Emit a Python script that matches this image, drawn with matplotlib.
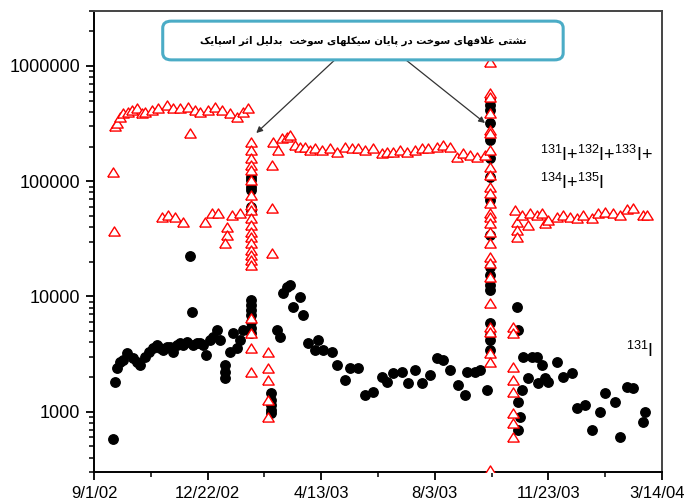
import matplotlib
matplotlib.use("Agg")
import matplotlib.pyplot as plt
from matplotlib.patches import FancyBboxPatch
from matplotlib.ticker import FixedLocator, NullFormatter, LogLocator
from matplotlib.transforms import ScaledTranslation

# ---------------- data (days since 9/1/02, activity) ----------------
i131_day = [18.7, 20.7, 22.7, 25.6, 28.6, 32.5, 38.5, 42.4, 45.4, 50.3, 54.2, 58.2, 62.1, 65.1,
            68, 72, 75, 77.9, 81.8, 84.8, 87.7, 91.7, 94.6, 96.6, 97.6, 101.5, 104.5, 107.5,
            110.4, 114.4, 117.3, 121.3, 124.2, 129.2, 129.2, 129.2, 134.1, 137, 141, 143.9, 146.9,
            155, 155, 155, 155, 155, 155, 155, 155, 155, 155, 155, 155, 155,
            174.5, 174.5, 174.5, 174.5, 174.5,
            180.4, 183.4, 186.3, 190.3, 193.2, 196.2, 203.1, 206.1, 211, 217.9, 220.9, 225.8,
            234.6, 239.6, 247.5, 252.4, 260.3, 267.2, 275.1, 283.9, 288.9, 294.8, 303.7, 309.6,
            316.5, 323.4, 331.3, 338.2, 344.1, 351, 358.8, 365.8, 367.8, 375.6, 380.6, 387.5,
            390.5, 390.5, 390.5, 390.5, 390.5, 390.5, 390.5, 390.5, 390.5, 390.5, 390.5, 390.5,
            390.5, 390.5, 390.5, 390.5, 390.5,
            417, 418, 422, 418, 420, 418, 423, 431.8, 436.8, 441.7, 427.9, 437.7, 444.6, 447.6,
            456.5, 462.4, 471.3, 476.2, 484.1, 491, 498.9, 503.8, 513.7, 518.6, 525.5, 531.4,
            541.3, 543.2]
i131_val = [580, 1810, 2400, 2700, 2810, 3230, 2930, 2700, 2540, 2990, 3300, 3570, 3800, 3570,
            3430, 3650, 3650, 3300, 3800, 3950, 3800, 4030, 22500, 7300, 3800, 3950, 3950, 3800,
            3100, 4190, 4450, 5100, 4190, 2540, 2210, 1960, 3300, 4800, 3570, 4190, 5100,
            109000, 102000, 89000, 84000, 60000, 56000, 9300, 8440, 7630, 6900, 6000, 5330, 4800,
            1450, 1260, 1140, 1035, 975,
            5100, 4450, 10700, 12100, 12600, 8100, 9900, 6900, 3950, 3430, 4190, 3430,
            3300, 2540, 1890, 2400, 2400, 1400, 1480, 2000, 1810, 2170, 2210, 1780,
            2300, 1780, 2080, 2930, 2810, 2300, 1710, 1400, 2210, 2210, 2300, 1540,
            507000, 459000, 415000, 320000, 228000, 159000, 109000, 68700, 34000, 18000, 15400,
            12600, 11400, 5900, 4630, 4190, 3430,
            8100, 5100, 1540, 1210, 900, 694, 2990, 2990, 2990, 2540, 1960, 1780, 1960, 1810,
            2700, 2000, 2170, 1080, 1140, 694, 995, 1450, 1210, 604, 1640, 1610,
            815, 995]

total_day = [20.5, 22.4, 25.6, 28.6, 33.5, 37.2, 42.1, 47, 50.3, 56.9, 63.1, 71.7, 77.9, 84.8,
             92.7, 99.6, 104.5, 112.4, 119.3, 125.9, 134.1, 140.7, 146.9, 151.8,
             94.6, 18.7, 19.7,
             66.7, 73, 79.9, 87.7, 109.4, 116, 122.3, 135.8, 143.9, 130.8, 130.8, 129.2,
             155, 155, 155, 155, 155, 155, 155, 155, 155, 155, 155, 155, 155, 155, 155, 155,
             155, 155, 155, 155, 155, 155,
             175.5, 175.5, 175.5, 171.6, 171.6, 171.6, 171.6, 171.6,
             176.5, 181.4, 185.4, 190.3, 193.2, 198.2, 203.1, 208, 213, 217.9, 224.8, 232.7,
             239.6, 247.5, 254.4, 260.3, 267.2, 275.1, 283.9, 288.9, 294.8, 301.7, 308.6, 316.5,
             323.4, 329.3, 338.2, 344.1, 351, 357.9, 363.8, 370.7, 377.6, 385.5,
             390.5, 390.5, 390.5, 390.5, 390.5, 390.5, 390.5, 390.5, 390.5, 390.5, 390.5, 390.5,
             390.5, 390.5, 390.5, 390.5, 390.5, 390.5, 390.5, 390.5, 390.5, 390.5, 390.5, 390.5,
             390.5, 390.5,
             413, 413, 413, 413, 413, 413, 413, 413,
             415.1, 417, 417, 417, 422, 427.9, 429.9, 436.8, 441.7, 444.6, 447.6, 456.5, 462.4,
             469.3, 476.2, 482.1, 491, 496.9, 503.8, 511.7, 518.6, 525.5, 531.4, 541.3, 545.2]
total_val = [300000, 318000, 363000, 391000, 399000, 415000, 432000, 391000, 399000, 415000,
             432000, 459000, 432000, 432000, 441000, 415000, 399000, 415000, 441000, 415000,
             391000, 361000, 399000, 432000,
             262000, 120000, 37000,
             49000, 51000, 49000, 44000, 44000, 53000, 53000, 51000, 53000, 40000, 34000, 29000,
             219000, 187000, 159000, 138000, 125000, 102000, 76000, 62000, 56000, 48000, 42000,
             36000, 33000, 29000, 25300, 22900, 20700, 18800, 6500, 4800, 3570, 2210,
             138000, 59000, 23800, 3300, 2400, 1890, 1260, 900,
             219000, 187000, 237000, 242000, 252000, 206000, 198000, 198000, 187000, 194000,
             187000, 194000, 179000, 198000, 194000, 194000, 187000, 194000, 176000, 179000,
             179000, 187000, 179000, 187000, 194000, 194000, 198000, 206000, 198000, 162000,
             176000, 169000, 162000, 169000,
             1080000, 583000, 538000, 391000, 278000, 262000, 187000, 133000, 113000, 89000,
             79000, 65000, 53000, 49000, 43000, 36000, 29000, 22000, 19500, 14800, 8800, 5400,
             4920, 3230, 2700, 312,
             5400, 4800, 2440, 1890, 1480, 975, 800, 604,
             56000, 44000, 38000, 33000, 51000, 42000, 53000, 51000, 53000, 43000, 46000, 49000,
             51000, 49000, 48000, 51000, 48000, 53000, 54000, 53000, 51000, 57400, 59000, 51000,
             51000]

x_ticks = [0, 112, 224, 336, 448, 560]
x_labels = ["9/1/02", "12/22/02", "4/13/03", "8/3/03", "11/23/03", "3/14/04"]
y_ticks = [1000, 10000, 100000, 1000000]
y_labels = ["1000", "10000", "100000", "1000000"]

note_text = "نشتی غلافهای سوخت در پایان سیکلهای سوخت  بدلیل اثر اسپایک"
label_total = r"$\mathregular{^{131}}$I+$\mathregular{^{132}}$I+$\mathregular{^{133}}$I+"
label_total2 = r"$\mathregular{^{134}}$I+$\mathregular{^{135}}$I"
label_i131 = r"$\mathregular{^{131}}$I"

# ---------------- minimal Arabic/Persian shaping ----------------
FORMS = {
    'ا': (0xFE8D, 0xFE8E, None, None), 'ب': (0xFE8F, 0xFE90, 0xFE91, 0xFE92),
    'پ': (0xFB56, 0xFB57, 0xFB58, 0xFB59), 'ت': (0xFE95, 0xFE96, 0xFE97, 0xFE98),
    'ث': (0xFE99, 0xFE9A, 0xFE9B, 0xFE9C), 'خ': (0xFEA5, 0xFEA6, 0xFEA7, 0xFEA8),
    'د': (0xFEA9, 0xFEAA, None, None), 'ر': (0xFEAD, 0xFEAE, None, None),
    'س': (0xFEB1, 0xFEB2, 0xFEB3, 0xFEB4), 'ش': (0xFEB5, 0xFEB6, 0xFEB7, 0xFEB8),
    'غ': (0xFECD, 0xFECE, 0xFECF, 0xFED0), 'ف': (0xFED1, 0xFED2, 0xFED3, 0xFED4),
    'ک': (0xFB8E, 0xFB8F, 0xFB90, 0xFB91), 'ل': (0xFEDD, 0xFEDE, 0xFEDF, 0xFEE0),
    'ن': (0xFEE5, 0xFEE6, 0xFEE7, 0xFEE8), 'ه': (0xFEE9, 0xFEEA, 0xFEEB, 0xFEEC),
    'و': (0xFEED, 0xFEEE, None, None), 'ی': (0xFBFC, 0xFBFD, 0xFBFE, 0xFBFF),
}


def dual(c):
    return c in FORMS and FORMS[c][2] is not None


def shape(text):
    out = []
    chars = list(text)
    i = 0
    n = len(chars)
    while i < n:
        c = chars[i]
        if c not in FORMS:
            out.append(c)
            i += 1
            continue
        prev = chars[i - 1] if i > 0 else ' '
        join_prev = dual(prev)
        if c == 'ل' and i + 1 < n and chars[i + 1] == 'ا':
            out.append(chr(0xFEFC if join_prev else 0xFEFB))
            i += 2
            continue
        nxt = chars[i + 1] if i + 1 < n else ' '
        join_next = dual(c) and nxt in FORMS
        iso, fin, ini, med = FORMS[c]
        if join_prev and join_next:
            g = med
        elif join_prev:
            g = fin
        elif join_next:
            g = ini
        else:
            g = iso
        out.append(chr(g))
        i += 1
    return ''.join(reversed(out))


# ---------------- figure ----------------
plt.rcParams['font.family'] = ['Liberation Sans', 'DejaVu Sans']
plt.rcParams['mathtext.fontset'] = 'custom'
plt.rcParams['mathtext.rm'] = 'Liberation Sans'

fig = plt.figure(figsize=(6.87, 5.04), dpi=100)
ax = fig.add_axes([94 / 687, 1 - 472 / 504, 568 / 687, 461 / 504])

tri = [(-1, -0.8), (1, -0.8), (0, 0.8), (-1, -0.8)]
ax.plot(i131_day, i131_val, linestyle='none', marker='o', ms=6.8, color='black',
        markeredgecolor='black', zorder=3)
ax.plot(total_day, total_val, linestyle='none', marker=tri, ms=8.2, markerfacecolor='white',
        markeredgecolor='#ff0000', markeredgewidth=1.0, zorder=4)

ax.set_yscale('log')
ax.set_xlim(0, 560)
ax.set_ylim(300, 3e6)

ax.xaxis.set_major_locator(FixedLocator(x_ticks))
ax.set_xticklabels(x_labels)
ax.xaxis.set_minor_locator(FixedLocator([56, 168, 280, 392, 504]))
ax.yaxis.set_major_locator(FixedLocator(y_ticks))
ax.set_yticklabels(y_labels)
ax.yaxis.set_minor_locator(LogLocator(base=10, subs=range(2, 10)))
ax.yaxis.set_minor_formatter(NullFormatter())

ax.tick_params(axis='both', which='major', direction='out', length=6, width=1.3,
               labelsize=13, pad=4, top=False, right=False)
ax.tick_params(axis='x', which='major', labelsize=12)
ax.tick_params(axis='both', which='minor', direction='out', length=3.5, width=1.1,
               top=False, right=False)
for s in ax.spines.values():
    s.set_linewidth(1.4)
    s.set_color('black')
ax.spines['right'].set_color('#444444')
ax.spines['top'].set_color('#444444')

# keep the last date label inside the canvas
last = ax.get_xticklabels()[-1]
last.set_transform(last.get_transform() + ScaledTranslation(-5 / 100, 0, fig.dpi_scale_trans))

# annotation box
box = FancyBboxPatch((0.121, 0.894), 0.705, 0.084, boxstyle='round,pad=0,rounding_size=0.015',
                     transform=ax.transAxes, facecolor='white', edgecolor='#4BACC6',
                     linewidth=2.2, zorder=6, clip_on=False)
ax.add_patch(box)
ax.text(0.4736, 0.936, shape(note_text), transform=ax.transAxes, ha='center', va='center',
        fontsize=7.3, fontweight='bold', family=['DejaVu Sans'], zorder=7)

ax.annotate('', xy=(160, 262000), xycoords='data', xytext=(0.424, 0.894),
            textcoords='axes fraction',
            arrowprops=dict(arrowstyle='-|>', color='#333333', lw=0.9, mutation_scale=9,
                            shrinkA=0, shrinkB=0), zorder=5)
ax.annotate('', xy=(385.5, 320000), xycoords='data', xytext=(0.549, 0.894),
            textcoords='axes fraction',
            arrowprops=dict(arrowstyle='-|>', color='#333333', lw=0.9, mutation_scale=9,
                            shrinkA=0, shrinkB=0), zorder=5)

ax.text(0.786, 0.688, label_total, transform=ax.transAxes, ha='left', va='center', fontsize=13)
ax.text(0.786, 0.627, label_total2, transform=ax.transAxes, ha='left', va='center', fontsize=13)
ax.text(0.937, 0.262, label_i131, transform=ax.transAxes, ha='left', va='center', fontsize=13)

fig.savefig('out.png', dpi=100)
